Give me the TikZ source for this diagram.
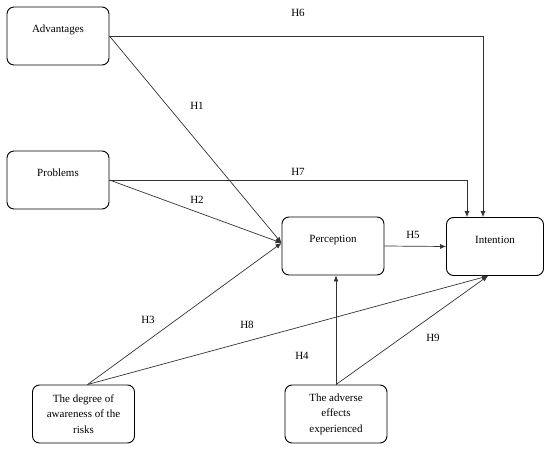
\documentclass[tikz,border=0pt]{standalone}
\usepackage{fontspec}
\setmainfont{Liberation Serif}
\usetikzlibrary{arrows.meta,positioning}

\begin{document}
\begin{tikzpicture}[x=1pt,y=1pt,>={Latex[length=6pt,width=5pt]},
  box/.style={draw,rounded corners=7pt,line width=0.9pt,minimum width=102pt,minimum height=58pt,
    text height=7pt,text depth=14pt,font=\fontsize{11}{13}\selectfont},
  tallbox/.style={draw,rounded corners=7pt,line width=0.9pt,minimum width=102pt,minimum height=58pt,
    align=center,font=\fontsize{11}{15.5}\selectfont},
  lbl/.style={font=\fontsize{11}{13}\selectfont},
  link/.style={->,draw=black!80,line width=0.7pt}]
  \useasboundingbox (0,0) rectangle (550,-450);
  \node[box] (adv) at (58,-36) {Advantages};
  \node[box] (prob) at (58,-180) {Problems};
  \node[box] (perc) at (333,-246) {Perception};
  \node[box,minimum width=97pt] (intn) at (495,-246.5) {Intention};
  \node[tallbox] (aware) at (83.5,-414) {The degree of\\awareness of the\\risks};
  \node[tallbox] (advr) at (336,-414) {The adverse\\effects\\experienced};
  % paths
  \draw[link] (adv.east) -- ([yshift=3pt]perc.west);
  \draw[link] (prob.east) -- ([yshift=3pt]perc.west);
  \draw[link] ([xshift=4pt]aware.north) -- ([yshift=3pt]perc.west);
  \draw[link] (perc.east) -- (intn.west);
  \draw[link] (adv.east) -| ([xshift=-12pt]intn.north);
  \draw[link] (prob.east) -| ([xshift=-28pt]intn.north);
  \draw[link] (advr.north) -- (advr.north |- perc.south);
  \draw[link] ([xshift=4pt]aware.north) -- ([xshift=-7pt]intn.south);
  \draw[link] (advr.north) -- ([xshift=-7pt]intn.south);
  % hypotheses
  \node[lbl] (h6) at (298,-13) {H6};
  \node[lbl] (h1) at (197,-106) {H1};
  \node[lbl] (h7) at (298,-172) {H7};
  \node[lbl] (h2) at (197,-200) {H2};
  \node[lbl] (h5) at (413,-235) {H5};
  \node[lbl] (h3) at (148,-320) {H3};
  \node[lbl] (h8) at (247,-325) {H8};
  \node[lbl] (h4) at (302,-356) {H4};
  \node[lbl] (h9) at (433,-338) {H9};
\end{tikzpicture}
\end{document}
